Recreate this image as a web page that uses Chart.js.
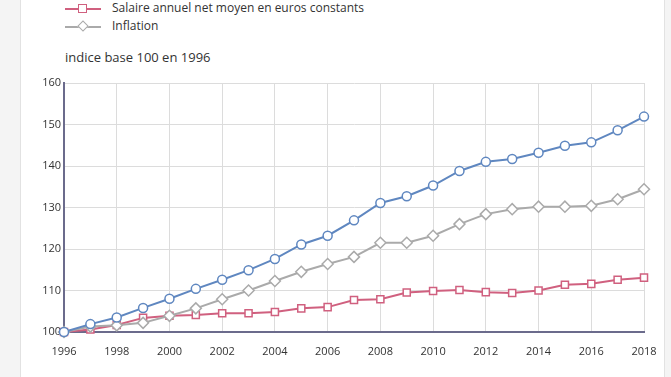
<!DOCTYPE html>
<html>
<head>
<meta charset="utf-8">
<script src="https://cdn.jsdelivr.net/npm/chart.js@4"></script>
<style>
  html,body{margin:0;padding:0;width:671px;height:377px;overflow:hidden;background:#f4f4f4;font-family:"Open Sans",sans-serif;}
  #panel{position:absolute;left:20px;top:0;width:643px;height:377px;background:#fff;border-left:1px solid #e2e2e2;border-right:1px solid #e2e2e2;}
  #wrap{position:absolute;left:0;top:0;width:671px;height:377px;}
  .leg{position:absolute;left:65px;height:16px;font-size:12px;color:#333;white-space:nowrap;}
  .leg .ln{position:absolute;left:0;top:7px;width:36px;height:2px;}
  .leg .mk{position:absolute;background:#fff;box-sizing:border-box;}
  .leg .tx{position:absolute;left:47px;top:-1px;line-height:16px;}
  #ytitle{position:absolute;left:65px;top:48px;font-size:13px;color:#333;}
</style>
</head>
<body>
<div id="panel"></div>
<div class="leg" style="top:1px">
  <div class="ln" style="background:#d0607f"></div>
  <div class="mk" style="left:13px;top:3px;width:9px;height:9px;border:1.5px solid #d0607f"></div>
  <div class="tx">Salaire annuel net moyen en euros constants</div>
</div>
<div class="leg" style="top:19px">
  <div class="ln" style="background:#aaaaaa"></div>
  <div class="mk" style="left:14px;top:3px;width:8px;height:8px;border:1.5px solid #aaaaaa;transform:rotate(45deg)"></div>
  <div class="tx">Inflation</div>
</div>
<div id="ytitle">indice base 100 en 1996</div>
<div id="wrap"><canvas id="c" width="671" height="377"></canvas></div>
<script>
const years = [1996,1997,1998,1999,2000,2001,2002,2003,2004,2005,2006,2007,2008,2009,2010,2011,2012,2013,2014,2015,2016,2017,2018];
const blueSeries = [100,101.9,103.5,105.8,108.0,110.4,112.6,114.9,117.6,121.1,123.2,126.9,131.1,132.7,135.3,138.8,141.0,141.7,143.2,144.9,145.7,148.6,151.9];
const salaire = [100,100.6,101.7,103.4,103.9,104.1,104.5,104.5,104.8,105.7,106.0,107.7,107.9,109.5,109.9,110.1,109.6,109.4,110.0,111.4,111.6,112.6,113.1];
const inflation = [100,101.3,101.6,102.2,103.9,105.7,107.9,110.0,112.3,114.5,116.4,118.1,121.5,121.5,123.2,126.0,128.4,129.6,130.2,130.2,130.4,132.0,134.4];
const yTicks = [100,110,120,130,140,150,160];
const xTickStep = 2;

const toXY = arr => arr.map((v,i)=>({x:years[i], y:v}));

new Chart(document.getElementById('c'), {
  type: 'line',
  data: {
    datasets: [
      {label:'Salaire annuel net moyen en euros constants', data: toXY(salaire), borderColor:'#d0607f', backgroundColor:'#fff', pointStyle:'rect', pointRadius:5, pointBorderWidth:1.5, borderWidth:2, order:3, clip:false},
      {label:'Inflation', data: toXY(inflation), borderColor:'#aaaaaa', backgroundColor:'#fff', pointStyle:'rectRot', pointRadius:5.5, pointBorderWidth:1.5, borderWidth:2, order:2, clip:false},
      {label:'Salaire', data: toXY(blueSeries), borderColor:'#5f87c0', backgroundColor:'#fff', pointStyle:'circle', pointRadius:4.5, pointBorderWidth:1.5, borderWidth:2, order:1, clip:false}
    ]
  },
  options: {
    responsive:false,
    animation:false,
    layout:{padding:{left:0,right:27,top:83,bottom:0}},
    plugins:{legend:{display:false}, tooltip:{enabled:false}},
    scales:{
      x:{
        type:'linear', min:years[0], max:years[years.length-1],
        ticks:{stepSize:xTickStep, callback:v=>String(v), color:'#333', font:{family:'Open Sans', size:11}, padding:13, maxRotation:0},
        grid:{color:'#dcdcdc', drawTicks:false},
        border:{color:'#6b6b8c', width:2},
        afterFit:s=>{s.height=45;}
      },
      y:{
        min:yTicks[0], max:yTicks[yTicks.length-1],
        afterBuildTicks:s=>{s.ticks = yTicks.map(v=>({value:v}));},
        ticks:{color:'#333', font:{family:'Open Sans', size:11}, padding:3},
        grid:{color:'#dcdcdc', drawTicks:false},
        border:{color:'#6b6b8c', width:2},
        afterFit:s=>{s.width=64;}
      }
    }
  }
});
</script>
</body>
</html>
